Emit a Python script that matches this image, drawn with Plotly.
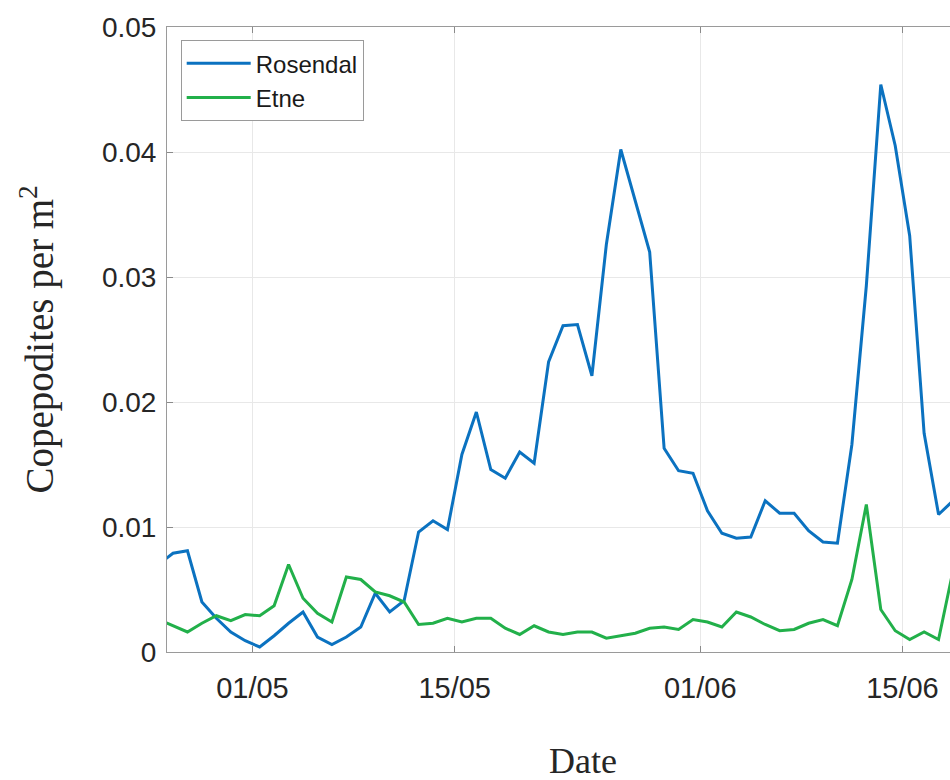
import plotly.graph_objects as go
import pandas as pd

# ---- data ----
start_date = "2019-04-24 12:00"   # first daily sample (just left of the visible window)
rosendal = [0.0070, 0.0079, 0.0081, 0.0040, 0.0027, 0.0016, 0.0009, 0.0004, 0.0013, 0.0023,
            0.0032, 0.0012, 0.0006, 0.0012, 0.0020, 0.0047, 0.0032, 0.0041, 0.0096, 0.0105,
            0.0098, 0.0158, 0.0192, 0.0146, 0.0139, 0.0160, 0.0151, 0.0232, 0.0261, 0.0262,
            0.0221, 0.0326, 0.0402, 0.0360, 0.0320, 0.0163, 0.0145, 0.0143, 0.0113, 0.0095,
            0.0091, 0.0092, 0.0121, 0.0111, 0.0111, 0.0097, 0.0088, 0.0087, 0.0166, 0.0293,
            0.0454, 0.0405, 0.0333, 0.0175, 0.0110, 0.0121]
etne = [0.0026, 0.0021, 0.0016, 0.0023, 0.0029, 0.0025, 0.0030, 0.0029, 0.0037, 0.0070,
        0.0043, 0.0031, 0.0024, 0.0060, 0.0058, 0.0048, 0.0045, 0.0040, 0.0022, 0.0023,
        0.0027, 0.0024, 0.0027, 0.0027, 0.0019, 0.0014, 0.0021, 0.0016, 0.0014, 0.0016,
        0.0016, 0.0011, 0.0013, 0.0015, 0.0019, 0.0020, 0.0018, 0.0026, 0.0024, 0.0020,
        0.0032, 0.0028, 0.0022, 0.0017, 0.0018, 0.0023, 0.0026, 0.0021, 0.0058, 0.0118,
        0.0034, 0.0017, 0.0010, 0.0016, 0.0010, 0.0065]
series_names = ["Rosendal", "Etne"]
x_tick_dates = ["2019-05-01", "2019-05-15", "2019-06-01", "2019-06-15"]
x_tick_labels = ["01/05", "15/05", "01/06", "15/06"]
y_tick_vals = [0, 0.01, 0.02, 0.03, 0.04, 0.05]
y_tick_labels = ["0", "0.01", "0.02", "0.03", "0.04", "0.05"]
x_range = ["2019-04-25 02:00", "2019-06-18 07:00"]
y_range = [0, 0.05]

dates = pd.date_range(start=start_date, periods=len(rosendal), freq="D")

fig = go.Figure()
fig.add_trace(go.Scatter(x=dates, y=rosendal, mode="lines", name=series_names[0],
                         line=dict(color="#0b72c0", width=3)))
fig.add_trace(go.Scatter(x=dates, y=etne, mode="lines", name=series_names[1],
                         line=dict(color="#22b04a", width=3)))

sans = "Liberation Sans, Arial, sans-serif"
serif = "Liberation Serif, Times New Roman, serif"

fig.update_layout(
    width=950, height=780,
    margin=dict(l=167, r=0, t=27, b=128),
    paper_bgcolor="white", plot_bgcolor="white",
    showlegend=True,
    legend=dict(x=0.0175, y=0.979, xanchor="left", yanchor="top",
                bgcolor="white", bordercolor="#9a9a9a", borderwidth=1,
                font=dict(family=sans, size=24, color="#1a1a1a"),
                itemwidth=64, tracegroupgap=0),
    xaxis=dict(range=x_range, tickvals=x_tick_dates, ticktext=x_tick_labels,
               showgrid=True, gridcolor="#e8e8e8", gridwidth=1,
               showline=True, linecolor="#9a9a9a", linewidth=1, mirror="ticks",
               ticks="inside", ticklen=6, tickcolor="#8a8a8a",
               tickfont=dict(family=sans, size=29, color="#262626"),
               ticklabelstandoff=10, zeroline=False),
    yaxis=dict(range=y_range, tickvals=y_tick_vals, ticktext=y_tick_labels,
               showgrid=True, gridcolor="#e8e8e8", gridwidth=1,
               showline=True, linecolor="#9a9a9a", linewidth=1,
               ticks="inside", ticklen=6, tickcolor="#8a8a8a",
               tickfont=dict(family=sans, size=28, color="#262626"),
               ticklabelstandoff=4, zeroline=False),
    annotations=[
        dict(text="Copepodites per m<sup>2</sup>", textangle=-90,
             xref="paper", yref="paper", x=-0.166, y=0.5,
             xanchor="center", yanchor="middle", showarrow=False,
             font=dict(family=serif, size=39, color="#262626")),
        dict(text="Date", xref="paper", yref="paper", x=0.531, y=-0.174,
             xanchor="center", yanchor="middle", showarrow=False,
             font=dict(family=serif, size=36, color="#262626")),
    ],
)

fig.write_html("out.html", config={"displayModeBar": False},
               post_script="document.body.style.margin='0';document.body.style.overflow='hidden';")
